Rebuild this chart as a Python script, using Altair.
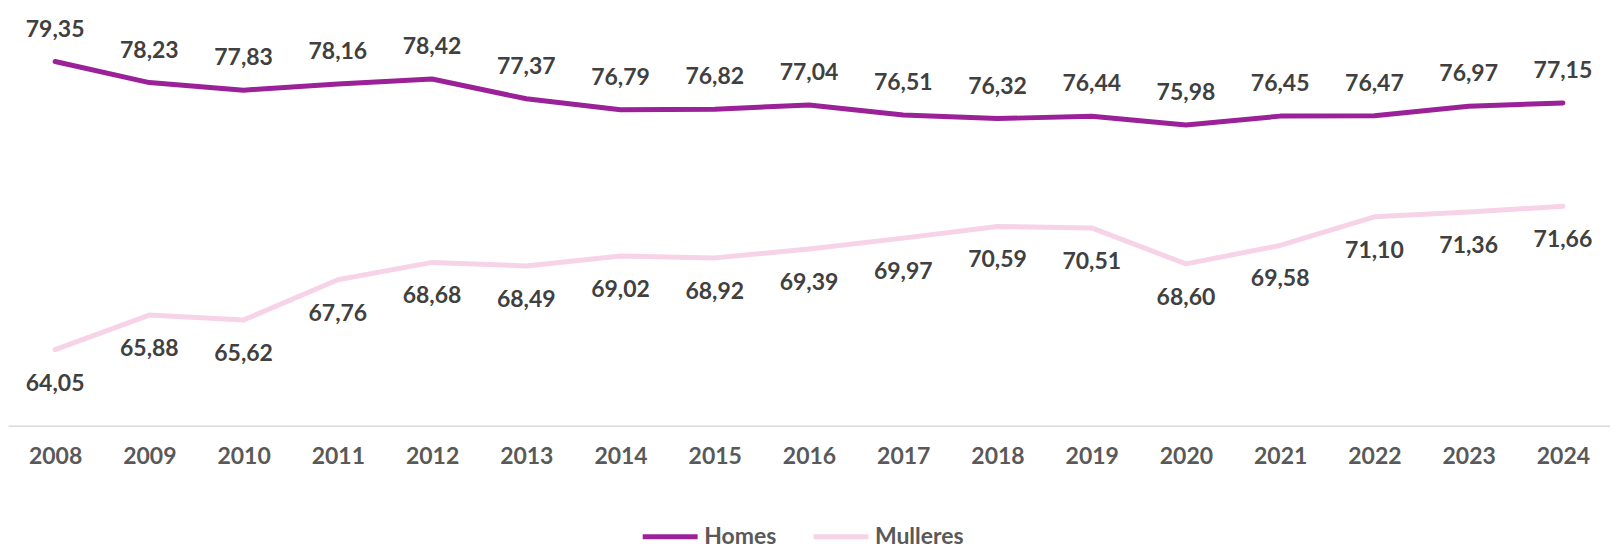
import altair as alt
import pandas as pd

years = [str(y) for y in range(2008, 2025)]
homes = [79.35, 78.23, 77.83, 78.16, 78.42, 77.37, 76.79, 76.82, 77.04, 76.51, 76.32, 76.44, 75.98, 76.45, 76.47, 76.97, 77.15]
mulleres = [64.05, 65.88, 65.62, 67.76, 68.68, 68.49, 69.02, 68.92, 69.39, 69.97, 70.59, 70.51, 68.60, 69.58, 71.10, 71.36, 71.66]
series = ["Homes", "Mulleres"]
colors = ["#9B2198", "#F7D3E8"]

rows = []
for s, vals in zip(series, [homes, mulleres]):
    for y, v in zip(years, vals):
        rows.append({"year": y, "value": v, "serie": s, "label": f"{v:.2f}".replace(".", ",")})
df = pd.DataFrame(rows)

FONT = "Lato"
FS = 23

x = alt.X("year:O", title=None, scale=alt.Scale(type="point", padding=0.5),
          axis=alt.Axis(labelAngle=0, labelFont=FONT, labelFontSize=FS, labelFontWeight="bold",
                        labelColor="#595959", ticks=False, domainColor="#D9D9D9", domainWidth=1.5,
                        labelPadding=20, grid=False))
y = alt.Y("value:Q", title=None, scale=alt.Scale(domain=[60, 80], nice=False, zero=False), axis=None)
color = alt.Color("serie:N", title=None,
                  scale=alt.Scale(domain=series, range=colors),
                  legend=alt.Legend(orient="none", legendX=633, legendY=458, direction="horizontal",
                                    symbolType="stroke", symbolSize=3025, symbolStrokeWidth=5,
                                    labelFont=FONT, labelFontSize=FS, labelFontWeight="bold",
                                    labelColor="#595959", labelOffset=4, columnPadding=26))

base = alt.Chart(df)
lines = base.mark_line(strokeWidth=5, strokeCap="round", strokeJoin="round").encode(x=x, y=y, color=color)

txt_h = alt.Chart(df[df.serie == "Homes"]).mark_text(dy=-32, font=FONT, fontSize=FS, fontWeight="bold",
                                                       color="#404040").encode(x=x, y=y, text="label:N")
txt_m = alt.Chart(df[df.serie == "Mulleres"]).mark_text(dy=34, font=FONT, fontSize=FS, fontWeight="bold",
                                                          color="#404040").encode(x=x, y=y, text="label:N")

chart = alt.layer(lines, txt_h, txt_m).properties(
    width=1604, height=377,
    padding={"left": 0, "top": 10, "right": 0, "bottom": 0}
).configure_view(stroke=None)

chart.save("out.html", embed_options={"renderer": "svg", "actions": False})
